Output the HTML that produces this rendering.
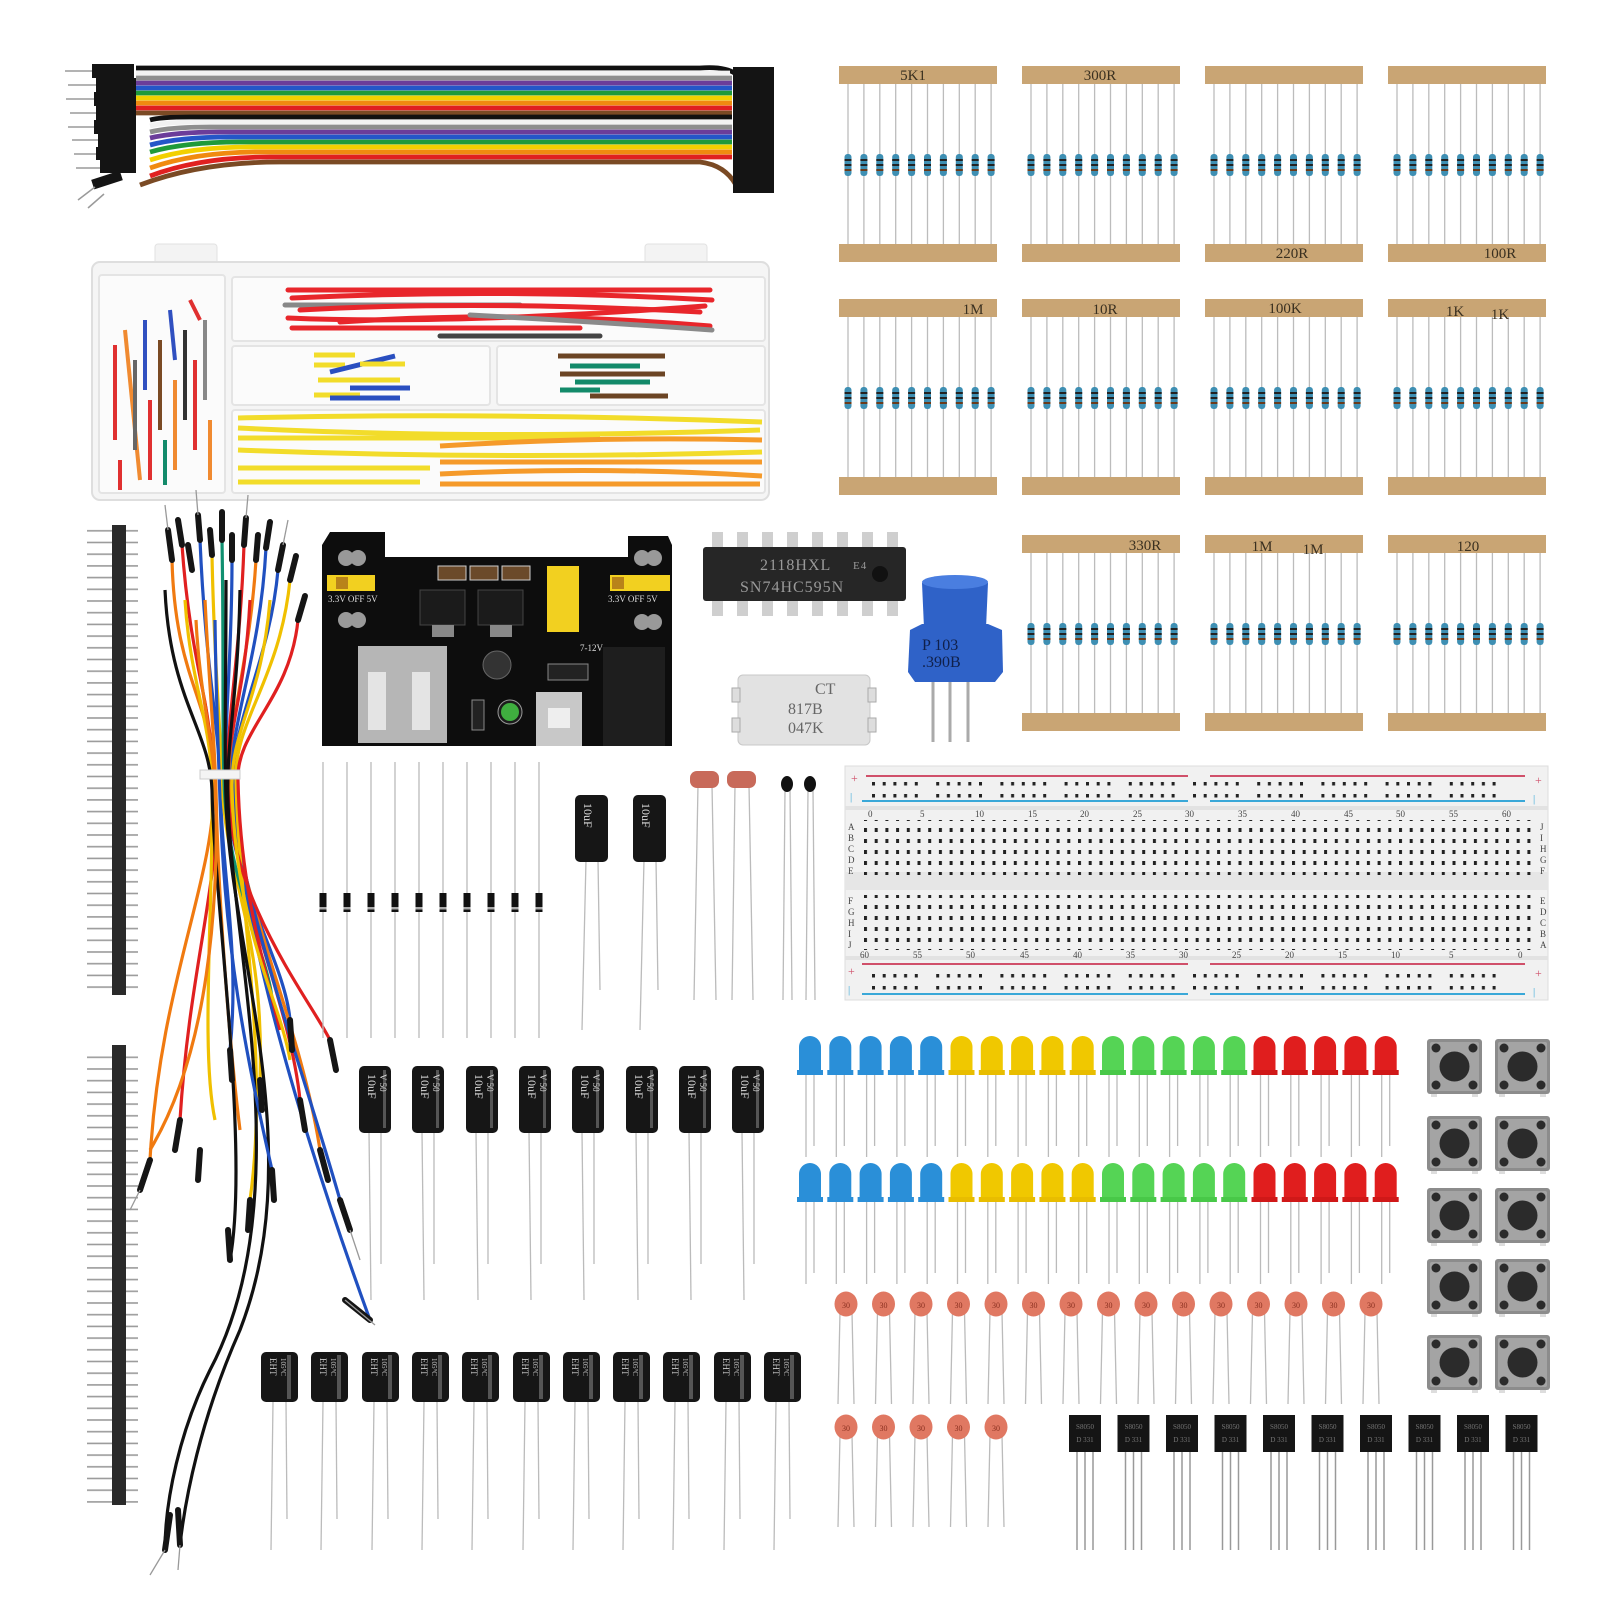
<!DOCTYPE html>
<html><head><meta charset="utf-8"><style>
html,body{margin:0;padding:0;background:#fff;}
svg{display:block;}
text{font-family:"Liberation Serif",serif;}
</style></head><body>
<svg width="1620" height="1620" viewBox="0 0 1620 1620" xmlns="http://www.w3.org/2000/svg">
<defs>
  <pattern id="leads" x="839" y="0" width="15.9" height="10" patternUnits="userSpaceOnUse">
    <rect x="8.4" y="0" width="1.3" height="10" fill="#b9b9b9"/>
  </pattern>
  <g id="resbodies">
    <g id="rb"><rect x="-3.5" y="-11" width="7" height="22" rx="3" fill="#3e8fb3"/><rect x="-3.5" y="-6" width="7" height="2" fill="#222"/><rect x="-3.5" y="-1" width="7" height="2" fill="#222"/><rect x="-3.5" y="4" width="7" height="2" fill="#6b3b1b"/></g>
  </g>
  <g id="strip">
    <rect x="0" y="0" width="158" height="18" fill="#c9a574"/>
    <rect x="0" y="178" width="158" height="18" fill="#c9a574"/>
    <g stroke="#bcbcbc" stroke-width="1.3">
      <line x1="9" y1="18" x2="9" y2="178"/><line x1="24.9" y1="18" x2="24.9" y2="178"/><line x1="40.8" y1="18" x2="40.8" y2="178"/><line x1="56.7" y1="18" x2="56.7" y2="178"/><line x1="72.6" y1="18" x2="72.6" y2="178"/><line x1="88.5" y1="18" x2="88.5" y2="178"/><line x1="104.4" y1="18" x2="104.4" y2="178"/><line x1="120.3" y1="18" x2="120.3" y2="178"/><line x1="136.2" y1="18" x2="136.2" y2="178"/><line x1="152.1" y1="18" x2="152.1" y2="178"/>
    </g>
    <use href="#rb" x="9" y="99"/><use href="#rb" x="24.9" y="99"/><use href="#rb" x="40.8" y="99"/><use href="#rb" x="56.7" y="99"/><use href="#rb" x="72.6" y="99"/><use href="#rb" x="88.5" y="99"/><use href="#rb" x="104.4" y="99"/><use href="#rb" x="120.3" y="99"/><use href="#rb" x="136.2" y="99"/><use href="#rb" x="152.1" y="99"/>
  </g>
  <pattern id="holes" x="864" y="0" width="10.7" height="11" patternUnits="userSpaceOnUse">
    <rect x="0" y="3" width="3" height="4" fill="#222"/>
  </pattern>
  <pattern id="railholes" x="872" y="0" width="64.2" height="12" patternUnits="userSpaceOnUse">
    <rect x="0" y="2" width="3" height="3.5" fill="#222"/><rect x="10.7" y="2" width="3" height="3.5" fill="#222"/><rect x="21.4" y="2" width="3" height="3.5" fill="#222"/><rect x="32.1" y="2" width="3" height="3.5" fill="#222"/><rect x="42.8" y="2" width="3" height="3.5" fill="#222"/>
  </pattern>
  <pattern id="hdr" x="0" y="525" width="20" height="11.7" patternUnits="userSpaceOnUse">
    <rect x="0" y="5" width="20" height="1.6" fill="#9a9a9a"/>
  </pattern>
  <g id="ledB"><path d="M0 38 V11 A11 11 0 0 1 22 11 V38 Z" fill="#2a8fd8"/><rect x="-2" y="34" width="26" height="5" fill="#2a8fd8"/><line x1="7" y1="39" x2="7" y2="121" stroke="#bbb" stroke-width="1.3"/><line x1="15" y1="39" x2="15" y2="110" stroke="#bbb" stroke-width="1.3"/></g>
  <g id="ledY"><path d="M0 38 V11 A11 11 0 0 1 22 11 V38 Z" fill="#f0c800"/><rect x="-2" y="34" width="26" height="5" fill="#e8bd00"/><line x1="7" y1="39" x2="7" y2="121" stroke="#bbb" stroke-width="1.3"/><line x1="15" y1="39" x2="15" y2="110" stroke="#bbb" stroke-width="1.3"/></g>
  <g id="ledG"><path d="M0 38 V11 A11 11 0 0 1 22 11 V38 Z" fill="#55d455"/><rect x="-2" y="34" width="26" height="5" fill="#48c848"/><line x1="7" y1="39" x2="7" y2="121" stroke="#bbb" stroke-width="1.3"/><line x1="15" y1="39" x2="15" y2="110" stroke="#bbb" stroke-width="1.3"/></g>
  <g id="ledR"><path d="M0 38 V11 A11 11 0 0 1 22 11 V38 Z" fill="#e01e1e"/><rect x="-2" y="34" width="26" height="5" fill="#d01818"/><line x1="7" y1="39" x2="7" y2="121" stroke="#bbb" stroke-width="1.3"/><line x1="15" y1="39" x2="15" y2="110" stroke="#bbb" stroke-width="1.3"/></g>
  <g id="led5B"><use href="#ledB"/><use href="#ledB" x="30.3"/><use href="#ledB" x="60.6"/><use href="#ledB" x="90.9"/><use href="#ledB" x="121.2"/></g>
  <g id="led5Y"><use href="#ledY"/><use href="#ledY" x="30.3"/><use href="#ledY" x="60.6"/><use href="#ledY" x="90.9"/><use href="#ledY" x="121.2"/></g>
  <g id="led5G"><use href="#ledG"/><use href="#ledG" x="30.3"/><use href="#ledG" x="60.6"/><use href="#ledG" x="90.9"/><use href="#ledG" x="121.2"/></g>
  <g id="led5R"><use href="#ledR"/><use href="#ledR" x="30.3"/><use href="#ledR" x="60.6"/><use href="#ledR" x="90.9"/><use href="#ledR" x="121.2"/></g>
  <g id="ledrow"><use href="#led5B"/><use href="#led5Y" x="151.5"/><use href="#led5G" x="303"/><use href="#led5R" x="454.5"/></g>
  <g id="btn"><rect x="4" y="52" width="6" height="6" fill="#ddd"/><rect x="45" y="52" width="6" height="6" fill="#ddd"/><rect x="0" y="0" width="55" height="55" rx="3" fill="#8c8c8c"/><rect x="3" y="3" width="49" height="49" rx="2" fill="#a4a4a4"/><circle cx="27.5" cy="27.5" r="15" fill="#2b2b2b"/><circle cx="9" cy="9" r="4.5" fill="#2b2b2b"/><circle cx="46" cy="9" r="4.5" fill="#2b2b2b"/><circle cx="9" cy="46" r="4.5" fill="#2b2b2b"/><circle cx="46" cy="46" r="4.5" fill="#2b2b2b"/></g>
  <g id="cer"><line x1="-6" y1="8" x2="-8" y2="100" stroke="#bbb" stroke-width="1.3"/><line x1="6" y1="8" x2="8" y2="100" stroke="#bbb" stroke-width="1.3"/><ellipse cx="0" cy="0" rx="11.5" ry="12.5" fill="#e07862"/><text x="0" y="4" font-size="8" text-anchor="middle" fill="#8a3020" font-family="Liberation Sans,sans-serif">30</text></g>
  <g id="cer5"><use href="#cer"/><use href="#cer" x="37.5"/><use href="#cer" x="75"/><use href="#cer" x="112.5"/><use href="#cer" x="150"/></g>
  <g id="tr"><line x1="8" y1="37" x2="8" y2="135" stroke="#999" stroke-width="1.5"/><line x1="16" y1="37" x2="16" y2="135" stroke="#999" stroke-width="1.5"/><line x1="24" y1="37" x2="24" y2="135" stroke="#999" stroke-width="1.5"/><rect x="0" y="0" width="32" height="37" fill="#151515"/><text x="16" y="14" font-size="7" text-anchor="middle" fill="#777" font-family="Liberation Sans,sans-serif">S8050</text><text x="16" y="27" font-size="7" text-anchor="middle" fill="#777" font-family="Liberation Sans,sans-serif">D 331</text></g>
  <g id="ecap"><line x1="10" y1="66" x2="12" y2="234" stroke="#bbb" stroke-width="1.3"/><line x1="22" y1="66" x2="22" y2="198" stroke="#bbb" stroke-width="1.3"/><rect x="0" y="0" width="32" height="67" rx="5" fill="#161616"/><rect x="24" y="4" width="3" height="58" fill="#555"/><text transform="translate(9,8) rotate(90)" font-size="12" fill="#ddd" font-family="Liberation Sans,sans-serif">10uF</text><text transform="translate(21,8) rotate(90)" font-size="9" fill="#ddd" font-family="Liberation Sans,sans-serif">V 50</text></g>
  <g id="bcap"><line x1="12" y1="50" x2="10" y2="198" stroke="#bbb" stroke-width="1.3"/><line x1="25" y1="50" x2="26" y2="167" stroke="#bbb" stroke-width="1.3"/><rect x="0" y="0" width="37" height="50" rx="5" fill="#161616"/><rect x="26" y="3" width="4" height="44" fill="#555"/><text transform="translate(9,6) rotate(90)" font-size="9" fill="#ccc" font-family="Liberation Sans,sans-serif">EHT</text><text transform="translate(20,6) rotate(90)" font-size="7" fill="#ccc" font-family="Liberation Sans,sans-serif">105°C</text></g>
  <g id="diode"><line x1="0" y1="0" x2="0" y2="276" stroke="#bbb" stroke-width="1.3"/><rect x="-3.5" y="131" width="7" height="19" fill="#111"/><rect x="-3.5" y="145" width="7" height="2.5" fill="#aaa"/></g>
</defs>

<!-- ================= RIBBON CABLE ================= -->
<g>
  <g stroke-width="4.8" fill="none">
    <path d="M136 68 H700 Q725 66 736 74" stroke="#111"/>
    <path d="M136 73 H730" stroke="#f2f2f2"/>
    <path d="M136 78 H732" stroke="#8e8e8e"/>
    <path d="M136 83 H732" stroke="#6b3d9a"/>
    <path d="M136 88 H732" stroke="#2456c8"/>
    <path d="M136 93 H732" stroke="#1f9a3a"/>
    <path d="M136 98 H732" stroke="#f2d000"/>
    <path d="M136 103 H732" stroke="#f08a10"/>
    <path d="M136 108 H732" stroke="#e02020"/>
    <path d="M136 113 H732" stroke="#7a4a24"/>
    <path d="M150 120 Q160 117 190 117 H732" stroke="#111"/>
    <path d="M150 126 Q165 122 200 122 H732" stroke="#f2f2f2"/>
    <path d="M150 132 Q170 127 210 127 H732" stroke="#8e8e8e"/>
    <path d="M150 138 Q175 132 220 132 H732" stroke="#6b3d9a"/>
    <path d="M150 145 Q180 137 230 137 H732" stroke="#2456c8"/>
    <path d="M150 152 Q185 142 240 142 H732" stroke="#1f9a3a"/>
    <path d="M150 160 Q190 147 250 147 H732" stroke="#f2d000"/>
    <path d="M150 168 Q195 152 260 152 H732" stroke="#f08a10"/>
    <path d="M150 176 Q200 157 270 157 H732" stroke="#e02020"/>
    <path d="M140 185 Q200 162 280 162 H700 Q725 165 736 185" stroke="#7a4a24"/>
  </g>
  <!-- left connectors -->
  <g fill="#141414">
    <rect x="92" y="64" width="42" height="14"/><rect x="96" y="78" width="40" height="14"/><rect x="94" y="92" width="42" height="14"/><rect x="96" y="106" width="40" height="14"/><rect x="94" y="120" width="42" height="14"/><rect x="98" y="134" width="38" height="13"/><rect x="96" y="147" width="40" height="13"/><rect x="100" y="160" width="36" height="13"/>
    <rect x="92" y="175" width="30" height="10" transform="rotate(-18 107 180)"/>
  </g>
  <g stroke="#9a9a9a" stroke-width="1.5">
    <line x1="65" y1="71" x2="92" y2="71"/><line x1="68" y1="85" x2="96" y2="85"/><line x1="66" y1="99" x2="94" y2="99"/><line x1="70" y1="113" x2="96" y2="113"/><line x1="68" y1="127" x2="94" y2="127"/><line x1="72" y1="140" x2="98" y2="140"/><line x1="74" y1="154" x2="96" y2="154"/><line x1="76" y1="168" x2="100" y2="168"/><line x1="78" y1="200" x2="95" y2="187"/><line x1="88" y1="208" x2="104" y2="194"/>
  </g>
  <!-- right connectors -->
  <g fill="#141414">
    <rect x="733" y="67" width="41" height="15"/><rect x="733" y="82" width="41" height="15"/><rect x="733" y="97" width="41" height="15"/><rect x="733" y="112" width="41" height="15"/><rect x="733" y="127" width="41" height="15"/><rect x="733" y="142" width="41" height="15"/><rect x="733" y="157" width="41" height="12"/><rect x="733" y="169" width="41" height="12"/><rect x="733" y="181" width="41" height="12"/>
  </g>
</g>

<!-- ================= BOX ================= -->
<g>
  <rect x="155" y="244" width="62" height="24" rx="3" fill="#f3f3f3" stroke="#e2e2e2"/>
  <rect x="645" y="244" width="62" height="24" rx="3" fill="#f3f3f3" stroke="#e2e2e2"/>
  <rect x="92" y="262" width="677" height="238" rx="8" fill="#f5f5f5" stroke="#dedede" stroke-width="2"/>
  <g fill="#fbfbfb" stroke="#e4e4e4" stroke-width="2">
    <rect x="99" y="275" width="126" height="218" rx="3"/>
    <rect x="232" y="277" width="533" height="64" rx="3"/>
    <rect x="232" y="346" width="258" height="59" rx="3"/>
    <rect x="497" y="346" width="268" height="59" rx="3"/>
    <rect x="232" y="410" width="533" height="83" rx="3"/>
  </g>
  <!-- red wires -->
  <g stroke-width="5" fill="none" stroke-linecap="round">
    <path d="M288 290 H710" stroke="#e8262b"/>
    <path d="M292 298 Q500 288 712 300" stroke="#e8262b"/>
    <path d="M285 305 H520" stroke="#888"/>
    <path d="M300 310 Q480 300 700 312" stroke="#e8262b"/>
    <path d="M288 318 Q450 325 705 306" stroke="#e8262b"/>
    <path d="M340 322 Q520 310 710 326" stroke="#e8262b"/>
    <path d="M470 315 Q600 322 712 330" stroke="#8a8a8a"/>
    <path d="M292 328 H580" stroke="#e8262b"/>
    <path d="M440 336 H600" stroke="#444"/>
  </g>
  <!-- mid-left wires -->
  <g stroke-width="5" fill="none">
    <path d="M314 355 H355" stroke="#f2dc2a"/><path d="M314 365 H345" stroke="#f2dc2a"/><path d="M330 372 L395 356" stroke="#2a4fc0"/><path d="M318 380 H400" stroke="#f2dc2a"/><path d="M350 388 H410" stroke="#2a4fc0"/><path d="M314 395 H360" stroke="#f2dc2a"/><path d="M360 364 H405" stroke="#f2dc2a"/><path d="M330 398 H400" stroke="#2a4fc0"/>
  </g>
  <g stroke-width="5" fill="none">
    <path d="M558 356 H665" stroke="#6b4424"/><path d="M570 366 H640" stroke="#138a6a"/><path d="M560 374 H665" stroke="#6b4424"/><path d="M575 382 H650" stroke="#138a6a"/><path d="M560 390 H600" stroke="#138a6a"/><path d="M590 396 H668" stroke="#6b4424"/>
  </g>
  <!-- bottom wires -->
  <g stroke-width="5" fill="none">
    <path d="M238 418 Q500 412 762 422" stroke="#f2dc2a"/>
    <path d="M238 428 Q480 440 760 430" stroke="#f2dc2a"/>
    <path d="M238 438 H600" stroke="#f2dc2a"/>
    <path d="M440 446 Q600 436 762 440" stroke="#f59a2a"/>
    <path d="M238 450 Q500 460 762 452" stroke="#f2dc2a"/>
    <path d="M440 462 H762" stroke="#f59a2a"/>
    <path d="M238 468 H430" stroke="#f2dc2a"/>
    <path d="M440 474 Q600 466 762 476" stroke="#f59a2a"/>
    <path d="M440 484 H760" stroke="#f59a2a"/>
    <path d="M238 482 H420" stroke="#f2dc2a"/>
  </g>
  <!-- left misc -->
  <g stroke-width="4" fill="none">
    <path d="M115 345 V440" stroke="#e03030"/><path d="M125 330 L140 480" stroke="#f08a30"/><path d="M135 360 V450" stroke="#666"/><path d="M145 320 V390" stroke="#3050c0"/><path d="M150 400 V480" stroke="#e03030"/><path d="M160 340 V430" stroke="#7a4a24"/><path d="M170 310 L175 360" stroke="#3050c0"/><path d="M175 380 V470" stroke="#f08a30"/><path d="M185 330 V420" stroke="#333"/><path d="M195 360 V450" stroke="#e03030"/><path d="M205 320 V400" stroke="#888"/><path d="M210 420 V480" stroke="#f08a30"/><path d="M120 460 V490" stroke="#e03030"/><path d="M190 300 L200 320" stroke="#e03030"/><path d="M165 440 V485" stroke="#138a6a"/>
  </g>
</g>

<!-- ================= RESISTOR STRIPS ================= -->
<use href="#strip" x="839" y="66"/><use href="#strip" x="1022" y="66"/><use href="#strip" x="1205" y="66"/><use href="#strip" x="1388" y="66"/>
<use href="#strip" x="839" y="299"/><use href="#strip" x="1022" y="299"/><use href="#strip" x="1205" y="299"/><use href="#strip" x="1388" y="299"/>
<use href="#strip" x="1022" y="535"/><use href="#strip" x="1205" y="535"/><use href="#strip" x="1388" y="535"/>
<g font-size="15" fill="#3a3020">
  <text x="913" y="80" text-anchor="middle">5K1</text>
  <text x="1100" y="80" text-anchor="middle">300R</text>
  <text x="1292" y="258" text-anchor="middle">220R</text>
  <text x="1500" y="258" text-anchor="middle">100R</text>
  <text x="973" y="314" text-anchor="middle">1M</text>
  <text x="1105" y="314" text-anchor="middle">10R</text>
  <text x="1285" y="313" text-anchor="middle">100K</text>
  <text x="1455" y="316" text-anchor="middle">1K</text><text x="1500" y="319" text-anchor="middle">1K</text>
  <text x="1145" y="550" text-anchor="middle">330R</text>
  <text x="1262" y="551" text-anchor="middle">1M</text><text x="1313" y="554" text-anchor="middle">1M</text>
  <text x="1468" y="551" text-anchor="middle">120</text>
</g>

<!-- ================= PIN HEADERS ================= -->
<rect x="87" y="527" width="51" height="466" fill="url(#hdr)"/>
<rect x="112" y="525" width="14" height="470" fill="#2a2a2a"/>
<rect x="87" y="1047" width="51" height="457" fill="url(#hdr)"/>
<rect x="112" y="1045" width="14" height="460" fill="#2a2a2a"/>

<!-- ================= JUMPER WIRE BUNDLE ================= -->
<g fill="none" stroke-width="3.2">
  <path d="M172 560 C175 680 212 700 214 780 C216 880 160 980 150 1160" stroke="#f07a10"/>
  <path d="M182 545 C190 660 210 700 216 780 C222 880 190 960 180 1120" stroke="#e02020"/>
  <path d="M192 570 C200 670 214 720 218 780 C222 880 200 1000 200 1150" stroke="#ffffff"/>
  <path d="M200 540 C205 660 218 720 220 780 C222 880 240 950 230 1050" stroke="#2050c0"/>
  <path d="M212 555 C214 660 220 720 222 780 C225 880 265 930 260 1080" stroke="#f0c000"/>
  <path d="M222 540 C224 660 222 720 224 780 C226 880 270 960 272 1000" stroke="#109070"/>
  <path d="M232 560 C232 660 224 720 226 780 C228 880 285 960 290 1020" stroke="#2050c0"/>
  <path d="M244 545 C240 660 226 720 228 780 C230 880 290 1000 300 1100" stroke="#e02020"/>
  <path d="M256 560 C250 660 228 720 230 780 C232 880 300 1020 320 1150" stroke="#f07a10"/>
  <path d="M266 548 C260 660 230 720 232 780 C234 880 300 1060 340 1200" stroke="#2050c0"/>
  <path d="M278 570 C270 660 232 720 234 780 C236 900 290 1100 370 1320" stroke="#2050c0"/>
  <path d="M290 580 C280 680 234 720 236 780 C238 900 270 1060 250 1200" stroke="#f0c000"/>
  <path d="M298 620 C290 700 236 730 238 780 C240 880 260 950 280 1030" stroke="#e02020"/>
  <path d="M185 600 C190 680 210 720 212 780 C214 900 200 1050 215 1120" stroke="#f0c000"/>
  <path d="M205 600 C210 700 214 730 216 790 C218 900 230 1050 240 1130" stroke="#f07a10"/>
  <path d="M250 600 C245 700 226 730 228 790 C230 900 310 1000 330 1040" stroke="#e02020"/>
  <path d="M270 600 C262 700 230 730 232 790 C236 930 280 1000 290 1060" stroke="#f0c000"/>
  <path d="M165 590 C170 700 210 730 212 790 C214 900 250 1150 230 1260" stroke="#111"/>
  <path d="M240 590 C238 700 226 740 228 800 C232 950 300 1200 210 1370 C180 1430 165 1500 165 1550" stroke="#111"/>
  <path d="M226 580 C226 700 224 740 226 800 C230 950 310 1150 240 1330 C200 1420 185 1500 180 1545" stroke="#111"/>
  <path d="M196 620 C200 700 214 740 216 800 C218 900 210 1050 150 1150" stroke="#f07a10"/>
  <path d="M215 620 C216 700 218 740 220 800 C225 950 245 1050 272 1170" stroke="#2050c0"/>
</g>
<rect x="200" y="770" width="40" height="9" fill="#f4f4f4" stroke="#ccc"/>
<g stroke="#151515" stroke-width="6" stroke-linecap="round">
  <line x1="172" y1="560" x2="168" y2="530"/><line x1="182" y1="545" x2="178" y2="520"/><line x1="200" y1="540" x2="198" y2="515"/><line x1="222" y1="540" x2="222" y2="512"/><line x1="244" y1="545" x2="246" y2="518"/><line x1="266" y1="548" x2="270" y2="522"/><line x1="256" y1="560" x2="258" y2="535"/><line x1="278" y1="570" x2="283" y2="545"/><line x1="290" y1="580" x2="296" y2="556"/><line x1="298" y1="620" x2="305" y2="596"/><line x1="232" y1="560" x2="232" y2="535"/><line x1="212" y1="555" x2="210" y2="530"/><line x1="192" y1="570" x2="188" y2="545"/>
  <line x1="150" y1="1160" x2="140" y2="1190"/><line x1="180" y1="1120" x2="175" y2="1150"/><line x1="200" y1="1150" x2="198" y2="1180"/><line x1="230" y1="1050" x2="232" y2="1080"/><line x1="260" y1="1080" x2="262" y2="1110"/><line x1="300" y1="1100" x2="305" y2="1130"/><line x1="320" y1="1150" x2="328" y2="1180"/><line x1="340" y1="1200" x2="350" y2="1230"/><line x1="370" y1="1320" x2="345" y2="1300"/><line x1="250" y1="1200" x2="248" y2="1230"/><line x1="230" y1="1260" x2="228" y2="1230"/><line x1="272" y1="1170" x2="274" y2="1200"/><line x1="165" y1="1550" x2="170" y2="1515"/><line x1="180" y1="1545" x2="178" y2="1510"/><line x1="290" y1="1020" x2="292" y2="1050"/><line x1="330" y1="1040" x2="336" y2="1070"/>
</g>
<g stroke="#999" stroke-width="1.3">
  <line x1="168" y1="530" x2="165" y2="505"/><line x1="198" y1="515" x2="196" y2="490"/><line x1="246" y1="518" x2="248" y2="495"/><line x1="283" y1="545" x2="288" y2="520"/>
  <line x1="140" y1="1190" x2="130" y2="1210"/><line x1="165" y1="1550" x2="150" y2="1575"/><line x1="180" y1="1545" x2="178" y2="1570"/><line x1="350" y1="1230" x2="360" y2="1260"/><line x1="345" y1="1300" x2="375" y2="1325"/>
</g>

<!-- ================= POWER MODULE ================= -->
<g>
  <path d="M330 532 H385 V557 H628 V536 H668 L672 545 V746 H322 V545 Z" fill="#0d0d0d"/>
  <rect x="327" y="575" width="48" height="16" fill="#f2d020"/><rect x="336" y="577" width="12" height="12" fill="#b8821a"/>
  <rect x="610" y="575" width="60" height="16" fill="#f2d020"/><rect x="612" y="577" width="12" height="12" fill="#b8821a"/>
  <rect x="547" y="566" width="32" height="66" fill="#f2d020"/>
  <rect x="438" y="566" width="28" height="14" fill="#6b4a2a" stroke="#ccc"/><rect x="470" y="566" width="28" height="14" fill="#6b4a2a" stroke="#ccc"/><rect x="502" y="566" width="28" height="14" fill="#6b4a2a" stroke="#ccc"/>
  <rect x="420" y="590" width="45" height="35" fill="#1b1b1b" stroke="#444"/><rect x="432" y="625" width="22" height="12" fill="#888"/>
  <rect x="478" y="590" width="45" height="35" fill="#1b1b1b" stroke="#444"/><rect x="490" y="625" width="22" height="12" fill="#888"/>
  <circle cx="346" cy="558" r="8" fill="#999"/><circle cx="358" cy="558" r="8" fill="#999"/>
  <circle cx="346" cy="620" r="8" fill="#999"/><circle cx="358" cy="620" r="8" fill="#999"/>
  <circle cx="642" cy="558" r="8" fill="#999"/><circle cx="654" cy="558" r="8" fill="#999"/>
  <circle cx="642" cy="622" r="8" fill="#999"/><circle cx="654" cy="622" r="8" fill="#999"/>
  <rect x="358" y="646" width="89" height="97" fill="#b6b6b6"/><rect x="368" y="672" width="18" height="58" fill="#e4e4e4"/><rect x="412" y="672" width="18" height="58" fill="#e4e4e4"/>
  <circle cx="497" cy="665" r="14" fill="#333" stroke="#666"/>
  <circle cx="510" cy="712" r="12" fill="#1b1b1b" stroke="#999"/><circle cx="510" cy="712" r="9" fill="#3fae3f"/>
  <rect x="472" y="700" width="12" height="30" fill="#222" stroke="#888"/>
  <rect x="536" y="692" width="46" height="54" fill="#c8c8c8"/><rect x="548" y="708" width="22" height="20" fill="#eee"/>
  <rect x="548" y="664" width="40" height="16" fill="#222" stroke="#888"/>
  <rect x="603" y="647" width="62" height="99" fill="#1e1e1e"/>
  <g font-family="Liberation Sans,sans-serif" font-size="9" fill="#ddd">
    <text x="328" y="602">3.3V  OFF  5V</text><text x="608" y="602">3.3V OFF 5V</text><text x="580" y="651">7-12V</text>
  </g>
</g>

<!-- ================= IC ================= -->
<g>
  <g fill="#cfcfcf">
    <rect x="712" y="532" width="11" height="17"/><rect x="737" y="532" width="11" height="17"/><rect x="762" y="532" width="11" height="17"/><rect x="787" y="532" width="11" height="17"/><rect x="812" y="532" width="11" height="17"/><rect x="837" y="532" width="11" height="17"/><rect x="862" y="532" width="11" height="17"/><rect x="887" y="532" width="11" height="17"/>
    <rect x="712" y="599" width="11" height="17"/><rect x="737" y="599" width="11" height="17"/><rect x="762" y="599" width="11" height="17"/><rect x="787" y="599" width="11" height="17"/><rect x="812" y="599" width="11" height="17"/><rect x="837" y="599" width="11" height="17"/><rect x="862" y="599" width="11" height="17"/><rect x="887" y="599" width="11" height="17"/>
  </g>
  <rect x="703" y="547" width="203" height="54" rx="3" fill="#262626"/>
  <circle cx="880" cy="574" r="8" fill="#111"/>
  <g font-family="Liberation Sans,sans-serif" font-size="16" fill="#9a9a9a" letter-spacing="1">
    <text x="760" y="570">2118HXL</text><text x="853" y="569" font-size="11">E4</text><text x="740" y="592">SN74HC595N</text>
  </g>
</g>

<!-- ================= POT ================= -->
<g>
  <line x1="933" y1="675" x2="933" y2="742" stroke="#aaa" stroke-width="3"/><line x1="950" y1="675" x2="950" y2="742" stroke="#aaa" stroke-width="3"/><line x1="968" y1="675" x2="968" y2="742" stroke="#aaa" stroke-width="3"/>
  <path d="M922 583 Q955 570 988 583 L986 628 H924 Z" fill="#2f62c8"/>
  <ellipse cx="955" cy="582" rx="33" ry="7" fill="#4a7ee0"/>
  <path d="M910 630 L922 624 H988 L1002 630 L1003 672 L995 682 H915 L908 672 Z" fill="#2f62c8"/>
  <g font-family="Liberation Sans,sans-serif" font-size="16" fill="#10204a">
    <text x="922" y="650">P 103</text><text x="922" y="667">.390B</text>
  </g>
</g>

<!-- ================= OPTOCOUPLER ================= -->
<g>
  <rect x="738" y="675" width="132" height="70" rx="5" fill="#e2e2e2" stroke="#c8c8c8"/>
  <rect x="732" y="688" width="8" height="14" fill="#ddd" stroke="#aaa"/><rect x="732" y="718" width="8" height="14" fill="#ddd" stroke="#aaa"/>
  <rect x="868" y="688" width="8" height="14" fill="#ddd" stroke="#aaa"/><rect x="868" y="718" width="8" height="14" fill="#ddd" stroke="#aaa"/>
  <g font-family="Liberation Sans,sans-serif" font-size="16" fill="#666">
    <text x="815" y="694">CT</text><text x="788" y="714">817B</text><text x="788" y="733">047K</text>
  </g>
</g>

<!-- ================= DIODES ================= -->
<g>
  <use href="#diode" x="323" y="762"/><use href="#diode" x="347" y="762"/><use href="#diode" x="371" y="762"/><use href="#diode" x="395" y="762"/><use href="#diode" x="419" y="762"/><use href="#diode" x="443" y="762"/><use href="#diode" x="467" y="762"/><use href="#diode" x="491" y="762"/><use href="#diode" x="515" y="762"/><use href="#diode" x="539" y="762"/>
</g>

<!-- small caps, LDRs, thermistors -->
<g>
  <line x1="586" y1="860" x2="582" y2="1030" stroke="#bbb" stroke-width="1.3"/><line x1="598" y1="860" x2="600" y2="990" stroke="#bbb" stroke-width="1.3"/>
  <line x1="644" y1="860" x2="640" y2="1030" stroke="#bbb" stroke-width="1.3"/><line x1="656" y1="860" x2="658" y2="990" stroke="#bbb" stroke-width="1.3"/>
  <rect x="575" y="795" width="33" height="67" rx="5" fill="#161616"/><rect x="633" y="795" width="33" height="67" rx="5" fill="#161616"/>
  <text transform="translate(584,803) rotate(90)" font-size="12" fill="#ddd" font-family="Liberation Sans,sans-serif">10uF</text>
  <text transform="translate(642,803) rotate(90)" font-size="12" fill="#ddd" font-family="Liberation Sans,sans-serif">10uF</text>
  <g stroke="#bbb" stroke-width="1.3">
    <line x1="698" y1="785" x2="694" y2="1000"/><line x1="712" y1="785" x2="716" y2="1000"/>
    <line x1="735" y1="785" x2="732" y2="1000"/><line x1="749" y1="785" x2="753" y2="1000"/>
    <line x1="785" y1="790" x2="783" y2="1000"/><line x1="790" y1="790" x2="792" y2="1000"/>
    <line x1="808" y1="790" x2="806" y2="1000"/><line x1="813" y1="790" x2="815" y2="1000"/>
  </g>
  <rect x="690" y="771" width="29" height="17" rx="7" fill="#c86a5a"/><rect x="727" y="771" width="29" height="17" rx="7" fill="#c86a5a"/>
  <ellipse cx="787" cy="784" rx="6" ry="8" fill="#111"/><ellipse cx="810" cy="784" rx="6" ry="8" fill="#111"/>
</g>

<!-- ================= BREADBOARD ================= -->
<g>
  <rect x="845" y="766" width="703" height="234" fill="#f1f1f1" stroke="#ddd"/>
  <rect x="845" y="806" width="703" height="4" fill="#e2e2e2"/>
  <rect x="845" y="872" width="703" height="18" fill="#e6e6e6"/>
  <rect x="845" y="956" width="703" height="4" fill="#e2e2e2"/>
  <line x1="866" y1="776" x2="1188" y2="776" stroke="#d0506a" stroke-width="2"/><line x1="1210" y1="776" x2="1525" y2="776" stroke="#d0506a" stroke-width="2"/>
  <line x1="862" y1="801" x2="1188" y2="801" stroke="#3aa8d8" stroke-width="2"/><line x1="1210" y1="801" x2="1525" y2="801" stroke="#3aa8d8" stroke-width="2"/>
  <line x1="862" y1="964" x2="1188" y2="964" stroke="#d0506a" stroke-width="2"/><line x1="1210" y1="964" x2="1525" y2="964" stroke="#d0506a" stroke-width="2"/>
  <line x1="862" y1="994" x2="1188" y2="994" stroke="#3aa8d8" stroke-width="2"/><line x1="1210" y1="994" x2="1525" y2="994" stroke="#3aa8d8" stroke-width="2"/>
  <rect x="872" y="780" width="640" height="24" fill="url(#railholes)"/>
  <rect x="872" y="972" width="640" height="24" fill="url(#railholes)"/>
  <rect x="864" y="820" width="670" height="55" fill="url(#holes)"/>
  <rect x="864" y="895" width="670" height="55" fill="url(#holes)"/>
  <g font-family="Liberation Sans,sans-serif" font-size="9" fill="#444">
    <text x="868" y="817">0</text><text x="920" y="817">5</text><text x="975" y="817">10</text><text x="1028" y="817">15</text><text x="1080" y="817">20</text><text x="1133" y="817">25</text><text x="1185" y="817">30</text><text x="1238" y="817">35</text><text x="1291" y="817">40</text><text x="1344" y="817">45</text><text x="1396" y="817">50</text><text x="1449" y="817">55</text><text x="1502" y="817">60</text>
    <text x="848" y="830">A</text><text x="848" y="841">B</text><text x="848" y="852">C</text><text x="848" y="863">D</text><text x="848" y="874">E</text>
    <text x="848" y="904">F</text><text x="848" y="915">G</text><text x="848" y="926">H</text><text x="848" y="937">I</text><text x="848" y="948">J</text>
    <text x="1540" y="830">J</text><text x="1540" y="841">I</text><text x="1540" y="852">H</text><text x="1540" y="863">G</text><text x="1540" y="874">F</text>
    <text x="1540" y="904">E</text><text x="1540" y="915">D</text><text x="1540" y="926">C</text><text x="1540" y="937">B</text><text x="1540" y="948">A</text>
    <text x="860" y="958">60</text><text x="913" y="958">55</text><text x="966" y="958">50</text><text x="1020" y="958">45</text><text x="1073" y="958">40</text><text x="1126" y="958">35</text><text x="1179" y="958">30</text><text x="1232" y="958">25</text><text x="1285" y="958">20</text><text x="1338" y="958">15</text><text x="1391" y="958">10</text><text x="1449" y="958">5</text><text x="1518" y="958">0</text>
  </g>
  <g font-family="Liberation Sans,sans-serif" font-size="12" fill="#d0506a"><text x="851" y="782">+</text><text x="1535" y="784">+</text><text x="848" y="975">+</text><text x="1535" y="977">+</text></g>
  <g font-family="Liberation Sans,sans-serif" font-size="11" fill="#3aa8d8"><text x="850" y="800">|</text><text x="1533" y="802">|</text><text x="848" y="993">|</text><text x="1533" y="995">|</text></g>
</g>

<!-- ================= ELECTROLYTIC CAPS ================= -->
<g>
  <use href="#ecap" x="359" y="1066"/><use href="#ecap" x="412" y="1066"/><use href="#ecap" x="466" y="1066"/><use href="#ecap" x="519" y="1066"/><use href="#ecap" x="572" y="1066"/><use href="#ecap" x="626" y="1066"/><use href="#ecap" x="679" y="1066"/><use href="#ecap" x="732" y="1066"/>
</g>
<g>
  <use href="#bcap" x="261" y="1352"/><use href="#bcap" x="311" y="1352"/><use href="#bcap" x="362" y="1352"/><use href="#bcap" x="412" y="1352"/><use href="#bcap" x="462" y="1352"/><use href="#bcap" x="513" y="1352"/><use href="#bcap" x="563" y="1352"/><use href="#bcap" x="613" y="1352"/><use href="#bcap" x="663" y="1352"/><use href="#bcap" x="714" y="1352"/><use href="#bcap" x="764" y="1352"/>
</g>

<!-- ================= LEDS ================= -->
<use href="#ledrow" x="799" y="1036"/>
<use href="#ledrow" x="799" y="1163"/>

<!-- ================= BUTTONS ================= -->
<g>
  <use href="#btn" x="1427" y="1039"/><use href="#btn" x="1495" y="1039"/>
  <use href="#btn" x="1427" y="1116"/><use href="#btn" x="1495" y="1116"/>
  <use href="#btn" x="1427" y="1188"/><use href="#btn" x="1495" y="1188"/>
  <use href="#btn" x="1427" y="1259"/><use href="#btn" x="1495" y="1259"/>
  <use href="#btn" x="1427" y="1335"/><use href="#btn" x="1495" y="1335"/>
</g>

<!-- ================= CERAMIC CAPS ================= -->
<use href="#cer5" x="846" y="1304"/><use href="#cer5" x="1033.5" y="1304"/><use href="#cer5" x="1221" y="1304"/>
<use href="#cer5" x="846" y="1427"/>

<!-- ================= TRANSISTORS ================= -->
<g>
  <use href="#tr" x="1069" y="1415"/><use href="#tr" x="1117.5" y="1415"/><use href="#tr" x="1166" y="1415"/><use href="#tr" x="1214.5" y="1415"/><use href="#tr" x="1263" y="1415"/><use href="#tr" x="1311.5" y="1415"/><use href="#tr" x="1360" y="1415"/><use href="#tr" x="1408.5" y="1415"/><use href="#tr" x="1457" y="1415"/><use href="#tr" x="1505.5" y="1415"/>
</g>
</svg>
</body></html>
